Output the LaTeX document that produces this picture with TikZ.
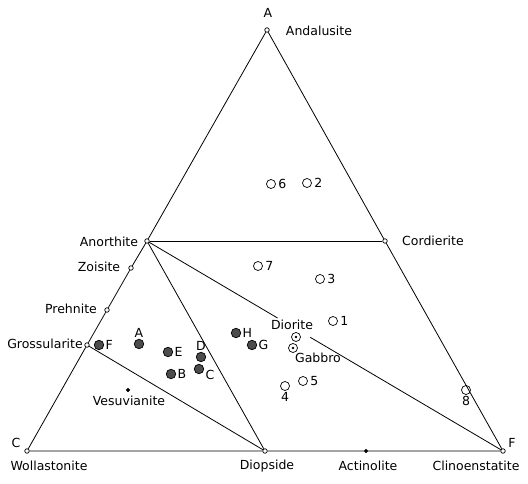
\documentclass[tikz,border=0pt]{standalone}
\usepackage{fontspec}
\setmainfont{DejaVu Sans}
\usetikzlibrary{positioning}

\begin{document}
\begin{tikzpicture}[x=1pt, y=-1pt, every node/.style={font=\fontsize{12.5}{14}\selectfont}, line width=0.8pt,
	vtx/.style={draw, circle, fill=white, inner sep=0pt, minimum size=4.5pt, line width=0.7pt},
	smp/.style={draw, circle, inner sep=0pt, minimum size=9pt, line width=0.7pt},
	dot/.style={draw, circle, fill=gray!60!black, inner sep=0pt, minimum size=9.5pt, line width=0.7pt},
	rock/.style={draw, circle, inner sep=0pt, minimum size=9pt, line width=0.7pt, path picture={\fill (path picture bounding box.center) circle (1.4pt);}},
	lbl/.style={inner sep=1pt}]
	\useasboundingbox (0,0) rectangle (528,484);
	% mineral points
	\node[vtx] (A) at (267,30) {};
	\node[vtx] (C) at (27,451) {};
	\node[vtx] (F) at (503,451) {};
	\node[vtx] (An) at (147,241) {};
	\node[vtx] (Co) at (385,241) {};
	\node[vtx] (Zo) at (131,268) {};
	\node[vtx] (Pr) at (107,310) {};
	\node[vtx] (Gr) at (87,345) {};
	\node[vtx] (Di) at (265,451) {};
	\node[vtx, fill=black, minimum size=3.5pt] (Ac) at (366,451) {};
	\node[vtx, fill=black, minimum size=3.5pt] (Ve) at (128,390) {};
	% triangle and tie lines
	\draw (A) -- (An) -- (Zo) -- (Pr) -- (Gr) -- (C) -- (Di) -- (Ac) -- (F) -- (Co) -- (A);
	\draw (An) -- (Co);
	\draw (An) -- (Di);
	\draw (Gr) -- (Di);
	\path (An) -- (F) coordinate[pos=0.365] (g1) coordinate[pos=0.458] (g2);
	\draw (An) -- (g1);
	\draw (g2) -- (F);
	% labels
	\node[lbl] (lA) at (268,13) {A};
	\node[lbl] (lC) at (16,443) {C};
	\node[lbl] (lF) at (512,443) {F};
	\node[lbl] (lAnd) at (319,31) {Andalusite};
	\node[lbl] (lAn) at (109,242) {Anorthite};
	\node[lbl] (lCo) at (433,241) {Cordierite};
	\node[lbl] (lZo) at (99,267) {Zoisite};
	\node[lbl] (lPr) at (71,309) {Prehnite};
	\node[lbl] (lGr) at (45,344) {Grossularite};
	\node[lbl] (lVe) at (129,401) {Vesuvianite};
	\node[lbl] (lWo) at (49,466) {Wollastonite};
	\node[lbl] (lDi) at (267,466) {Diopside};
	\node[lbl] (lAc) at (368,466) {Actinolite};
	\node[lbl] (lCl) at (476,466) {Clinoenstatite};
	% analysed rocks
	\foreach \n/\x/\y in {6/271/184, 2/307/183, 7/258/266, 3/320/279, 1/333/321, 5/303/381} {
		\node[smp] (s\n) at (\x,\y) {};
		\node[lbl, right=1pt of s\n] (ls\n) {\n};
	}
	\foreach \n/\x/\y in {4/285/386, 8/466/390} {
		\node[smp] (s\n) at (\x,\y) {};
		\node[lbl, below=0pt of s\n] (ls\n) {\n};
	}
	\foreach \n/\x/\y/\a/\b in {F/99/345/west/east, A/139/344/south/north, E/168/352/west/east, B/171/374/west/east, D/201/357/south/north, H/236/333/west/east, G/252/345/west/east} {
		\node[dot] (d\n) at (\x,\y) {};
		\node[lbl, anchor=\a] (ld\n) at (d\n.\b) {\n};
	}
	\node[dot] (dC) at (199,369) {};
	\node[lbl] (ldC) at (210,375) {C};
	% average rocks
	\node[rock] (dio) at (296,337) {};
	\node[rock] (gab) at (293,348) {};
	\node[lbl] (ldio) at (292,325) {Diorite};
	\node[lbl] (lgab) at (318,358) {Gabbro};
\end{tikzpicture}
\end{document}
